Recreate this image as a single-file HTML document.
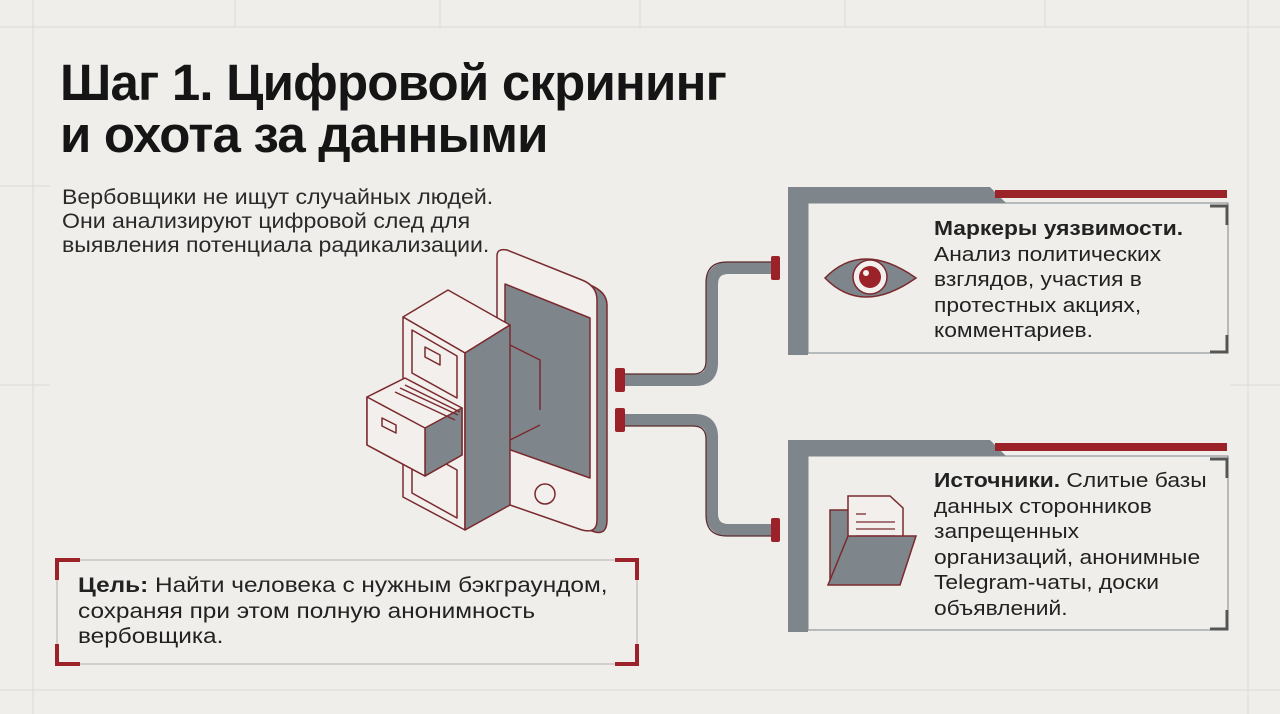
<!DOCTYPE html>
<html><head><meta charset="utf-8"><style>
html,body{margin:0;padding:0}
body{width:1280px;height:714px;background:#efeeea;position:relative;overflow:hidden;font-family:"Liberation Sans","DejaVu Sans",sans-serif;color:#1d1d1d}
.t{position:absolute;white-space:nowrap;transform-origin:0 0}
h1{position:absolute;left:60px;top:57px;margin:0;font-size:51px;line-height:52px;font-weight:bold;letter-spacing:-0.8px;color:#151515;white-space:nowrap}
</style></head><body>
<svg width="1280" height="714" style="position:absolute;left:0;top:0">
<g stroke="#dcdad4" stroke-width="1" fill="none">
<line x1="0" y1="27" x2="1280" y2="27"/><line x1="0" y1="690" x2="1280" y2="690"/>
<line x1="33" y1="0" x2="33" y2="714"/><line x1="1248" y1="0" x2="1248" y2="714"/>
<line x1="235" y1="0" x2="235" y2="27"/><line x1="440" y1="0" x2="440" y2="27"/><line x1="640" y1="0" x2="640" y2="27"/><line x1="845" y1="0" x2="845" y2="27"/><line x1="1045" y1="0" x2="1045" y2="27"/>
<line x1="0" y1="186" x2="50" y2="186"/><line x1="0" y1="385" x2="50" y2="385"/><line x1="1230" y1="385" x2="1280" y2="385"/>
</g>
<g fill="none" stroke="#7f868b" stroke-width="12" stroke-linejoin="round">
<path d="M620 380 H695 Q712 380 712 363 V285 Q712 268 729 268 H775"/>
<path d="M620 420 H695 Q712 420 712 437 V513 Q712 530 729 530 H775"/>
</g>
<g fill="none" stroke="#5a2a2e" stroke-width="1.2">
<path d="M620 374 H693 Q706 374 706 361 V283 Q706 262 727 262 H775"/>
<path d="M620 426 H693 Q706 426 706 439 V515 Q706 536 727 536 H775"/>
</g>
<g fill="#9a2228">
<rect x="615" y="368" width="10" height="24" rx="2"/><rect x="615" y="408" width="10" height="24" rx="2"/>
<rect x="771" y="256" width="9" height="24" rx="2"/><rect x="771" y="518" width="9" height="24" rx="2"/>
</g>
<g stroke="#7a2a2e" stroke-width="1.5" stroke-linejoin="round">
<path d="M500 258 Q500 250 510 252 L590 285 Q607 292 607 305 V520 Q607 535 595 532 L515 505 Q500 500 500 490 Z" fill="#7f868b"/>
<path d="M497 256 Q497 248 507 250 L582 280 Q597 286 597 300 V520 Q597 534 582 530 L510 505 Q497 500 497 488 Z" fill="#f2efec"/>
<polygon points="505,284 590,318 590,478 505,448" fill="#7f868b"/>
<circle cx="545" cy="494" r="10" fill="#f2efec"/>
</g>
<g stroke="#7a2a2e" stroke-width="1.5" stroke-linejoin="round">
<polygon points="403,317 448,290 510,325 465,353" fill="#f2efec"/>
<polygon points="403,317 465,353 465,530 403,497" fill="#f2efec"/>
<polygon points="465,353 510,325 510,505 465,530" fill="#7f868b"/>
<polygon points="412,330 457,356 457,398 412,373" fill="#f2efec"/>
<polygon points="412,445 457,470 457,518 412,493" fill="#f2efec"/>
<polygon points="425,347 440,355 440,365 425,357" fill="none"/>
<polygon points="367,397 405,378 462,408 462,455 425,476 367,445" fill="#f2efec"/>
<polygon points="425,428 462,408 462,455 425,476" fill="#7f868b"/>
<polygon points="367,397 425,428 425,476 367,445" fill="#f2efec"/>
<polyline points="395,392 455,420" fill="none"/><polyline points="400,388 458,415" fill="none"/><polyline points="405,385 460,412" fill="none"/>
<polygon points="382,418 396,425 396,433 382,426" fill="none"/>
<polyline points="510,345 540,360 540,410" fill="none"/>
<polyline points="510,440 540,425" fill="none"/>
</g>
<polygon points="788,187 990,187 1006,203 808,203 808,355 788,355" fill="#7f868b"/>
<rect x="995" y="190" width="232" height="8" fill="#9a2228"/>
<rect x="808" y="203" width="420" height="150" fill="#efeeea" stroke="#7f868b" stroke-width="1"/>
<path d="M1210 206 H1227 V225 M1227 335 V352 H1210" fill="none" stroke="#555" stroke-width="3"/>
<polygon points="788,440 990,440 1006,456 808,456 808,632 788,632" fill="#7f868b"/>
<rect x="995" y="443" width="232" height="8" fill="#9a2228"/>
<rect x="808" y="456" width="420" height="174" fill="#efeeea" stroke="#7f868b" stroke-width="1"/>
<path d="M1210 459 H1227 V478 M1227 610 V629 H1210" fill="none" stroke="#555" stroke-width="3"/>
<path d="M825 278 Q862 240 916 278 Q862 316 825 278 Z" fill="#7f868b" stroke="#7a2a2e" stroke-width="1.5"/>
<circle cx="870" cy="277" r="17" fill="#f2efec" stroke="#7a2a2e" stroke-width="1.5"/>
<circle cx="870" cy="277" r="11" fill="#9a2228"/><circle cx="866" cy="273" r="3" fill="#f2efec"/>
<path d="M830 510 H850 V580 H830 Z" fill="#7f868b" stroke="#7a2a2e" stroke-width="1.5"/>
<path d="M848 496 H890 L903 508 V560 H848 Z" fill="#f2efec" stroke="#7a2a2e" stroke-width="1.5"/>
<g stroke="#7a2a2e" stroke-width="1.3"><line x1="856" y1="514" x2="866" y2="514"/><line x1="856" y1="522" x2="895" y2="522"/><line x1="856" y1="529" x2="895" y2="529"/><line x1="856" y1="536" x2="895" y2="536"/></g>
<path d="M848 536 H916 L900 585 H828 Z" fill="#7f868b" stroke="#7a2a2e" stroke-width="1.5"/>
<rect x="57" y="560" width="580" height="104" fill="none" stroke="#b9aeaa" stroke-width="1"/>
<path d="M57 580 V560 H80 M615 560 H637 V580 M57 644 V664 H80 M615 664 H637 V644" fill="none" stroke="#9a2228" stroke-width="4"/>
</svg>
<h1>Шаг 1. Цифровой скрининг<br>и охота за данными</h1>
<div class="t" style="left:62px;top:186px;font-size:21px;line-height:24px;color:#2a2a2a;transform:scaleX(1.1)">Вербовщики не ищут случайных людей.<br>Они анализируют цифровой след для<br>выявления потенциала радикализации.</div>
<div class="t" style="left:78px;top:573px;font-size:21px;line-height:25.5px;color:#222;transform:scaleX(1.16)"><b>Цель:</b> Найти человека с нужным бэкграундом,<br>сохраняя при этом полную анонимность<br>вербовщика.</div>
<div class="t" style="left:934px;top:217px;font-size:20px;line-height:25.5px;color:#222;transform:scaleX(1.14)"><b>Маркеры уязвимости.</b><br>Анализ политических<br>взглядов, участия в<br>протестных акциях,<br>комментариев.</div>
<div class="t" style="left:934px;top:469px;font-size:20px;line-height:25.5px;color:#222;transform:scaleX(1.14)"><b>Источники.</b> Слитые базы<br>данных сторонников<br>запрещенных<br>организаций, анонимные<br>Telegram-чаты, доски<br>объявлений.</div>
</body></html>
